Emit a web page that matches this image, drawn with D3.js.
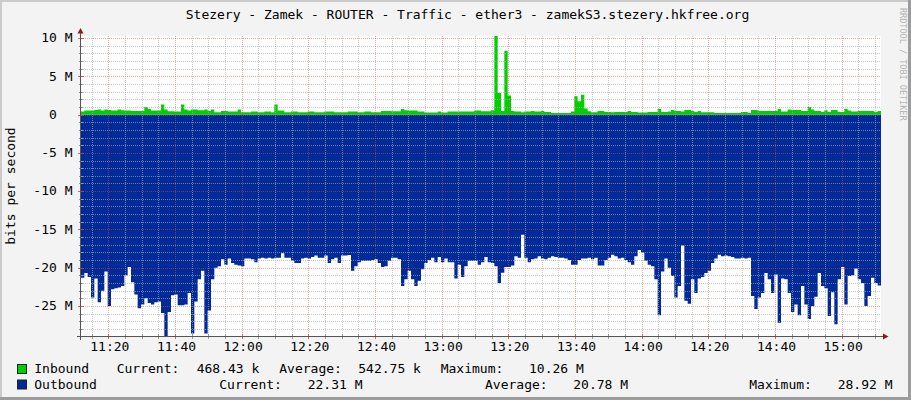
<!DOCTYPE html>
<html><head><meta charset="utf-8">
<script src="https://cdn.jsdelivr.net/npm/d3@7"></script>
<style>
html,body{margin:0;padding:0;background:#f3f3f3;}
svg{display:block;}
text{font-family:"DejaVu Sans Mono",monospace;}
</style>
</head><body>
<svg id="c" width="911" height="400"></svg>
<script>
const title = "Stezery - Zamek - ROUTER - Traffic - ether3 - zamekS3.stezery.hkfree.org";
const yAxisTitle = "bits per second";
const watermark = "RRDTOOL / TOBI OETIKER";
const seriesNames = ["Inbound", "Outbound"];
const seriesColors = ["#00CF00", "#002A97"];
const startTime = [11, 11, 48];   // hh, mm, ss of the left edge
const stepMinutes = 1;
// values in Mbit/s, one per minute
const inbound = [
0.39,0.52,0.52,0.52,0.6,0.65,0.52,0.65,0.6,0.52,
0.52,0.65,0.55,0.52,0.52,0.48,0.48,0.48,0.48,1.0,
0.74,0.52,0.52,0.52,1.3,0.65,0.43,0.43,0.39,0.39,
1.3,0.65,0.52,0.65,0.65,0.57,0.57,0.65,0.48,0.65,
0.30,0.30,0.48,0.48,0.39,0.39,0.39,0.65,0.30,0.30,
0.30,0.39,0.39,0.30,0.30,0.39,0.39,0.30,1.3,0.52,
0.52,0.30,0.30,0.39,0.39,0.30,0.30,0.30,0.39,0.39,
0.30,0.30,0.30,0.39,0.39,0.39,0.30,0.30,0.30,0.30,
0.39,0.39,0.39,0.30,0.30,0.39,0.39,0.30,0.30,0.30,
0.48,0.48,0.48,0.43,0.43,0.43,0.74,0.57,0.52,0.52,
0.52,0.39,0.39,0.26,0.26,0.26,0.26,0.39,0.26,0.26,
0.39,0.39,0.39,0.39,0.39,0.39,0.39,0.39,0.52,0.52,
0.43,0.43,0.43,0.57,10.26,2.8,0.48,8.35,2.5,0.48,
0.39,0.39,0.30,0.39,0.39,0.48,0.39,0.39,0.48,0.35,
0.35,0.22,0.22,0.22,0.22,0.22,0.22,0.39,2.4,1.74,
2.6,0.8,0.43,0.30,0.30,0.48,0.48,0.35,0.35,0.30,
0.35,0.35,0.35,0.35,0.48,0.35,0.35,0.26,0.26,0.26,
0.35,0.35,0.35,0.74,0.35,0.35,0.39,0.61,0.48,0.48,
0.39,0.61,0.61,0.48,0.35,0.48,0.30,0.30,0.30,0.30,
0.22,0.22,0.22,0.22,0.22,0.22,0.22,0.22,0.35,0.35,
0.22,0.61,0.61,0.48,0.48,0.48,0.48,0.48,0.48,0.74,
0.39,0.39,0.65,0.61,0.61,0.61,0.48,0.48,1.0,0.65,
0.48,0.48,0.35,0.57,0.35,0.61,0.61,0.35,0.35,0.74,
0.52,0.39,0.39,0.48,0.48,0.48,0.48,0.48,0.35,0.47
];
const outbound = [
21.3,20.7,21.2,23.9,21.4,24.5,23.0,20.5,25.0,22.8,
22.7,22.6,22.4,21.0,19.9,21.9,23.5,25.3,24.8,24.0,
24.6,24.8,24.5,24.4,25.9,28.92,25.8,23.6,23.5,24.9,
24.9,24.8,23.3,28.6,24.4,21.5,20.4,28.6,25.6,21.5,
20.0,19.8,18.9,19.6,18.8,19.4,19.6,19.7,19.8,18.8,
18.8,18.9,19.3,18.8,18.7,18.8,18.7,18.8,18.7,18.7,
18.1,18.7,18.7,19.1,19.4,19.4,18.8,18.7,18.8,18.6,
18.4,18.7,18.7,18.4,19.4,18.9,18.7,19.4,18.4,18.4,
18.35,20.4,19.8,19.3,19.1,19.1,19.1,19.0,18.9,19.4,
19.9,19.8,19.1,18.7,18.7,18.9,22.4,21.5,20.4,21.5,
22.4,21.7,20.2,19.4,19.0,18.7,19.3,18.6,19.3,18.8,
19.3,19.3,21.4,19.6,21.2,19.8,19.1,19.1,19.1,19.6,
19.3,18.6,19.3,19.4,19.8,22.0,20.65,19.9,19.9,19.7,
18.5,18.7,15.7,18.7,19.3,18.9,18.8,18.5,18.8,18.9,
18.7,18.5,18.6,18.7,18.7,18.8,19.0,19.6,19.6,19.0,
18.8,18.8,18.7,18.9,18.7,19.7,19.7,19.0,18.7,18.3,
18.5,18.8,18.7,19.0,19.3,19.6,18.5,17.7,18.0,19.1,
19.6,19.8,21.5,26.2,20.5,18.8,20.0,21.1,23.9,22.4,
17.1,24.3,24.7,21.5,23.3,21.4,21.2,20.7,20.4,19.4,
18.8,18.3,18.5,18.4,18.5,18.6,18.8,18.8,18.7,18.8,
18.7,23.7,25.4,23.9,23.3,20.7,21.5,23.3,20.9,27.2,
21.4,21.5,23.3,25.8,24.8,26.2,22.4,24.8,26.7,25.0,
23.8,20.7,22.4,22.7,26.3,23.2,27.4,21.5,19.9,24.8,
21.1,21.0,20.1,21.5,22.0,25.0,23.7,21.3,22.0,22.31
];
const yMaxValue = 10.26, yMinValue = -28.92;
const yTickValues = [10, 5, 0, -5, -10, -15, -20, -25];
const yTickLabels = ["10 M", "5 M", "0", "-5 M", "-10 M", "-15 M", "-20 M", "-25 M"];
const legendInbound = ["Current:", "468.43 k", "Average:", "542.75 k", "Maximum:", "10.26 M"];
const legendOutbound = ["Current:", "22.31 M", "Average:", "20.78 M", "Maximum:", "28.92 M"];

const svg = d3.select("#c");
const W = 911, H = 400;
const L = 81, R = 881, T = 36, B = 336;
const charW = 7.83;

// background and frame
svg.append("rect").attr("width", W).attr("height", H).attr("fill", "#f3f3f3");
svg.append("rect").attr("x", 0).attr("y", 0).attr("width", W).attr("height", 2).attr("fill", "#cbcbcb");
svg.append("rect").attr("x", 0).attr("y", 0).attr("width", 2).attr("height", H).attr("fill", "#cbcbcb");
svg.append("rect").attr("x", W - 3).attr("y", 0).attr("width", 3).attr("height", H).attr("fill", "#9c9c9c");
svg.append("rect").attr("x", 0).attr("y", H - 3).attr("width", W).attr("height", 3).attr("fill", "#9c9c9c");

const t0 = new Date(2000, 0, 1, startTime[0], startTime[1], startTime[2]);
const n = outbound.length;
const times = d3.range(n + 1).map(i => d3.timeMinute.offset(t0, i * stepMinutes));
const x = d3.scaleTime().domain([times[0], times[n]]).range([L, R]);
const y = d3.scaleLinear().domain([yMinValue, yMaxValue]).range([B, T]);

// canvas
svg.append("rect").attr("x", L).attr("y", T).attr("width", R - L).attr("height", B - T).attr("fill", "#ffffff");

const inData = inbound.map((v, i) => ({t: times[i], v: v})).concat([{t: times[n], v: inbound[n - 1]}]);
const outData = outbound.map((v, i) => ({t: times[i], v: -v})).concat([{t: times[n], v: -outbound[n - 1]}]);

const area = d3.area().x(d => x(d.t)).y0(y(0)).y1(d => y(d.v)).curve(d3.curveStepAfter);
svg.append("path").datum(outData).attr("d", area).attr("fill", seriesColors[1]);
svg.append("path").datum(inData).attr("d", area).attr("fill", seriesColors[0]);

// grid on top
const grid = svg.append("g");
const minorCol = "rgba(170,170,170,0.65)", majorCol = "rgba(235,70,70,0.5)";
const yMinor = d3.range(Math.ceil(yMinValue), Math.floor(yMaxValue) + 1);
yMinor.forEach(v => {
  const major = v % 5 === 0;
  const yy = Math.round(y(v)) + 0.5;
  grid.append("line").attr("x1", L).attr("x2", R).attr("y1", yy).attr("y2", yy)
    .attr("stroke", major ? majorCol : minorCol).attr("stroke-dasharray", "1,1");
  grid.append("line").attr("x1", major ? L - 3 : L - 2).attr("x2", major ? L + 3 : L + 2).attr("y1", yy).attr("y2", yy)
    .attr("stroke", major ? "rgba(220,60,60,0.8)" : "#999");
});
const xMinor = x.ticks(d3.timeMinute.every(5));
xMinor.forEach(t => {
  const major = t.getMinutes() % 20 === 0;
  const xx = Math.round(x(t)) + 0.5;
  grid.append("line").attr("x1", xx).attr("x2", xx).attr("y1", T).attr("y2", B)
    .attr("stroke", major ? majorCol : minorCol).attr("stroke-dasharray", "1,1");
  grid.append("line").attr("x1", xx).attr("x2", xx).attr("y1", B - 2).attr("y2", B + 3)
    .attr("stroke", major ? "rgba(220,60,60,0.8)" : "#999");
});

// axes
const axisCol = "#555";
svg.append("line").attr("x1", L - 4).attr("x2", R + 3).attr("y1", B + 0.5).attr("y2", B + 0.5).attr("stroke", axisCol);
svg.append("line").attr("x1", L - 0.5).attr("x2", L - 0.5).attr("y1", B + 4).attr("y2", T - 4).attr("stroke", axisCol);
svg.append("path").attr("d", `M${L - 3.5},${T - 2.5} L${L + 2.5},${T - 2.5} L${L - 0.5},${T - 8} Z`).attr("fill", "#8a1c1c");
svg.append("path").attr("d", `M${R + 2},${B - 2.5} L${R + 2},${B + 3.5} L${R + 7.5},${B + 0.5} Z`).attr("fill", "#8a1c1c");

// y labels
yTickValues.forEach((v, i) => {
  const lbl = yTickLabels[i];
  const xEnd = lbl.indexOf("M") >= 0 ? 72.5 : 72.5 - 2 * charW;
  svg.append("text").attr("x", xEnd).attr("y", y(v) + 4.3).attr("text-anchor", "end")
    .attr("font-size", 13).attr("fill", "#000").text(lbl);
});
// x labels
const fmt = d3.timeFormat("%H:%M");
xMinor.filter(t => t.getMinutes() % 20 === 0).forEach(t => {
  svg.append("text").attr("x", x(t) + 1.5).attr("y", 350.7).attr("text-anchor", "middle")
    .attr("font-size", 13).attr("fill", "#000").text(fmt(t));
});

// titles
svg.append("text").attr("x", 467.5).attr("y", 19).attr("text-anchor", "middle")
  .attr("font-size", 13).attr("fill", "#000").text(title);
svg.append("text").attr("transform", "translate(14.5,186) rotate(-90)").attr("text-anchor", "middle")
  .attr("font-size", 13).attr("fill", "#000").text(yAxisTitle);
svg.append("text").attr("transform", "translate(900,8) rotate(90)").attr("text-anchor", "start")
  .attr("font-size", 8.5).attr("fill", "#b4b4b4").text(watermark);

// legend
const rows = [
  {name: seriesNames[0], col: seriesColors[0], base: 373, box: 364, items: legendInbound,
   xs: [116.7, 196.7, 279.3, 358.3, 440.7, 529]},
  {name: seriesNames[1], col: seriesColors[1], base: 388.7, box: 379.5, items: legendOutbound,
   xs: [219.3, 307.7, 485, 573.3, 749.3, 837.7]}
];
rows.forEach(r => {
  svg.append("rect").attr("x", 17.5).attr("y", r.box + 0.5).attr("width", 9).attr("height", 9)
    .attr("fill", r.col).attr("stroke", "#222").attr("stroke-width", 1);
  svg.append("text").attr("x", 34.3).attr("y", r.base).attr("font-size", 13).attr("fill", "#000").text(r.name);
  r.items.forEach((s, k) => {
    svg.append("text").attr("x", r.xs[k]).attr("y", r.base).attr("font-size", 13).attr("fill", "#000").text(s);
  });
});
</script>
</body></html>
